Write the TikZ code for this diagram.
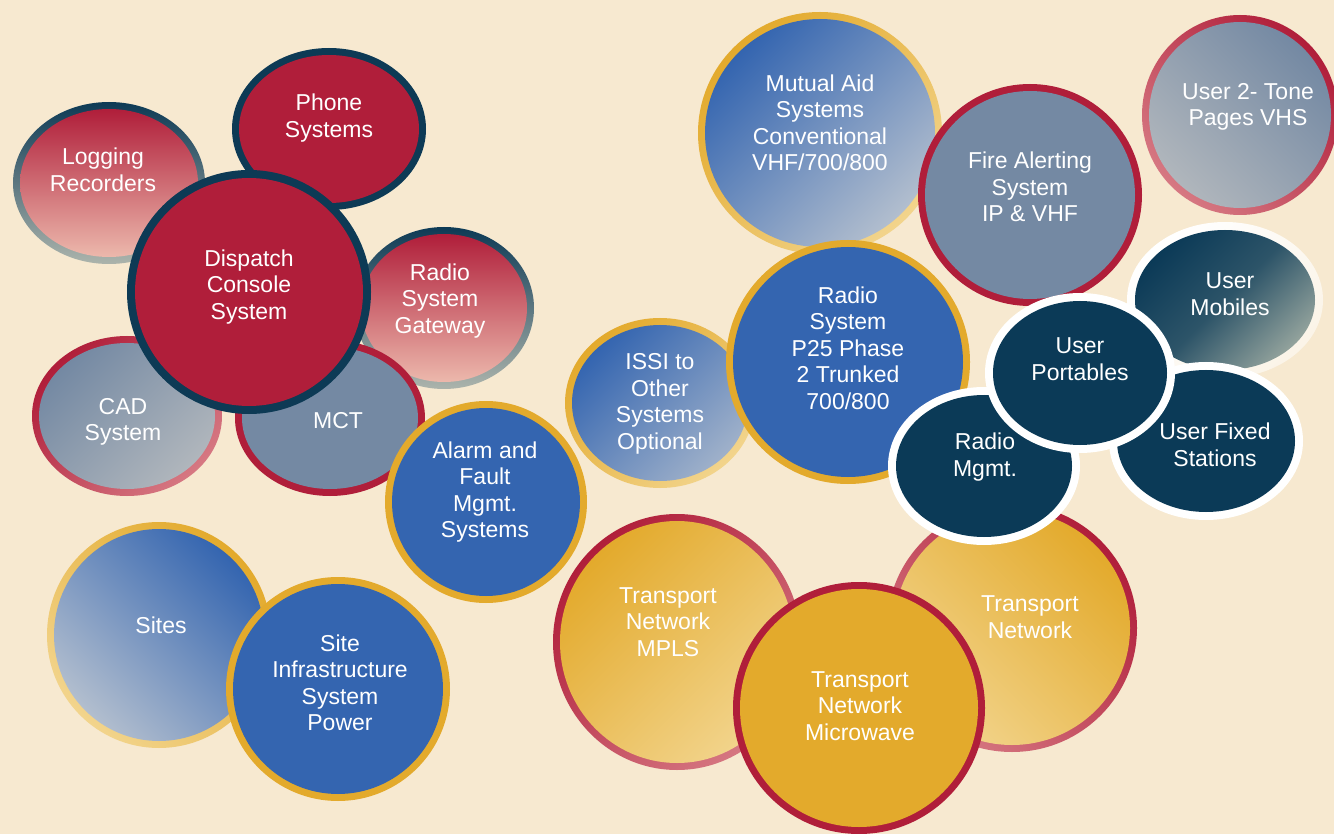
\documentclass[tikz,border=0pt]{standalone}
\usepackage{fontspec}
\setmainfont{Liberation Sans}
\usetikzlibrary{shapes.geometric}
\definecolor{cream}{RGB}{247,233,208}
\definecolor{crimson}{RGB}{176,30,58}
\definecolor{navyrim}{RGB}{13,58,85}
\definecolor{slate}{RGB}{116,137,163}
\definecolor{royalblue}{RGB}{52,101,176}
\definecolor{gold}{RGB}{227,170,44}
\definecolor{deepnavy}{RGB}{11,58,87}
\definecolor{blush}{RGB}{236,184,172}
\definecolor{rosepink}{RGB}{214,120,130}
\definecolor{ashgray}{RGB}{172,180,172}
\definecolor{mist}{RGB}{176,182,188}
\definecolor{paleblue}{RGB}{178,190,206}
\definecolor{palegold}{RGB}{242,212,140}
\definecolor{sage}{RGB}{146,162,156}

% one bubble = rim ellipse + face ellipse on top
\newcommand{\bubble}[7][7]{%
    \node[bubblerim, minimum width={2*#4pt}, minimum height={2*#5pt}, #6] (#2-rim) at (#3) {};
    \node[bubbleface, minimum width={2*#4pt-2*#1pt}, minimum height={2*#5pt-2*#1pt}, #7] (#2) at (#3) {};
}

\tikzset{
    bubblerim/.style={ellipse, inner sep=0pt, outer sep=0pt, draw=none},
    bubbleface/.style={ellipse, inner sep=0pt, outer sep=0pt, draw=none},
    bubbletext/.style={align=center, text=white, inner sep=0pt, font=\fontsize{23}{26.5}\selectfont}
}

\begin{document}
\begin{tikzpicture}[x=1pt, y=-1pt]
    \useasboundingbox (0,0) rectangle (1334,834);
    \fill[cream] (0,0) rectangle (1334,834);

    % dispatch cluster
    \bubble{gateway}{444,308}{90}{81}{top color=navyrim, bottom color=ashgray}{top color=crimson, bottom color=blush}
    \node[bubbletext] (gateway-text) at (440,301) {Radio\\System\\Gateway};
    \bubble{logging}{109,183}{96}{81}{top color=navyrim, bottom color=ashgray}{top color=crimson, bottom color=blush}
    \node[bubbletext] (logging-text) at (103,170) {Logging\\Recorders};
    \bubble{phone}{329,129}{97}{81}{fill=navyrim}{fill=crimson}
    \node[bubbletext] (phone-text) at (329,118) {Phone\\Systems};
    \bubble{cad}{127,416}{95}{80}{top color=crimson, bottom color=rosepink, shading angle=45}{top color=slate, bottom color=mist, shading angle=45}
    \node[bubbletext] (cad-text) at (123,422) {CAD\\System};
    \bubble{mct}{330,418}{95}{78}{fill=crimson}{fill=slate}
    \node[bubbletext] (mct-text) at (338,421) {MCT};
    \bubble[8]{dispatch}{249,292}{122}{122}{fill=navyrim}{fill=crimson}
    \node[bubbletext] (dispatch-text) at (249,287) {Dispatch\\Console\\System};

    % sites
    \bubble{alarm}{486,502}{101}{101}{fill=gold}{fill=royalblue}
    \node[bubbletext] (alarm-text) at (485,492) {Alarm and\\Fault\\Mgmt.\\Systems};
    \bubble{sites}{159,635}{112}{113}{top color=gold, bottom color=palegold, shading angle=-45}{top color=royalblue, bottom color=paleblue, shading angle=-45}
    \node[bubbletext] (sites-text) at (161,625) {Sites};
    \bubble{siteinfra}{338,689}{112}{112}{fill=gold}{fill=royalblue}
    \node[bubbletext] (siteinfra-text) at (340,683) {Site\\Infrastructure\\System\\Power};

    % radio system
    \bubble{mutual}{820,133}{122}{121}{top color=gold, bottom color=palegold, shading angle=45}{top color=royalblue, bottom color=paleblue, shading angle=45}
    \node[bubbletext] (mutual-text) at (820,123) {Mutual Aid\\Systems\\Conventional\\VHF/700/800};
    \bubble{issi}{660,403}{95}{85}{top color=gold, bottom color=palegold, shading angle=45}{top color=royalblue, bottom color=paleblue!85!royalblue, shading angle=45}
    \node[bubbletext] (issi-text) at (660,404) {ISSI to\\Other\\Systems\\Optional};
    \bubble{fire}{1030,195}{112}{111}{fill=crimson}{fill=slate}
    \node[bubbletext] (fire-text) at (1030,187) {Fire Alerting\\System\\IP \& VHF};
    \bubble{p25}{848,362}{122}{122}{fill=gold}{fill=royalblue}
    \node[bubbletext] (p25-text) at (848,348) {Radio\\System\\P25 Phase\\2 Trunked\\700/800};
    \bubble{twotone}{1240,115}{98}{100}{top color=crimson, bottom color=rosepink, shading angle=-45}{top color=slate, bottom color=mist, shading angle=-45}
    \node[bubbletext] (twotone-text) at (1248,107) {User 2- Tone\\Pages VHS};

    % transport
    \bubble{transport}{1012,628}{125}{124}{top color=crimson, bottom color=rosepink, shading angle=-45}{top color=gold, bottom color=palegold, shading angle=-45}
    \node[bubbletext] (transport-text) at (1030,617) {Transport\\Network};
    \bubble{mpls}{677,642}{124}{128}{top color=crimson, bottom color=rosepink, shading angle=45}{top color=gold, bottom color=palegold, shading angle=45}
    \node[bubbletext] (mpls-text) at (668,622) {Transport\\Network\\MPLS};
    \bubble{microwave}{859,708}{126}{126}{fill=crimson}{fill=gold}
    \node[bubbletext] (microwave-text) at (860,706) {Transport\\Network\\Microwave};

    % users
    \bubble[8]{mobiles}{1225,300}{98}{78}{top color=white, bottom color=cream!50!white, shading angle=45}{top color=deepnavy, bottom color=sage, middle color=deepnavy!75!sage, shading angle=45}
    \node[bubbletext] (mobiles-text) at (1230,294) {User\\Mobiles};
    \bubble[8]{fixed}{1206,441}{97}{79}{fill=white}{fill=deepnavy}
    \node[bubbletext] (fixed-text) at (1215,445) {User Fixed\\Stations};
    \bubble[8]{radiomgmt}{984,466}{96}{79}{fill=white}{fill=deepnavy}
    \node[bubbletext] (radiomgmt-text) at (985,457) {Radio\\Mgmt.};
    \bubble[8]{portables}{1080,373}{95}{80}{fill=white}{fill=deepnavy}
    \node[bubbletext] (portables-text) at (1080,359) {User\\Portables};
\end{tikzpicture}
\end{document}
